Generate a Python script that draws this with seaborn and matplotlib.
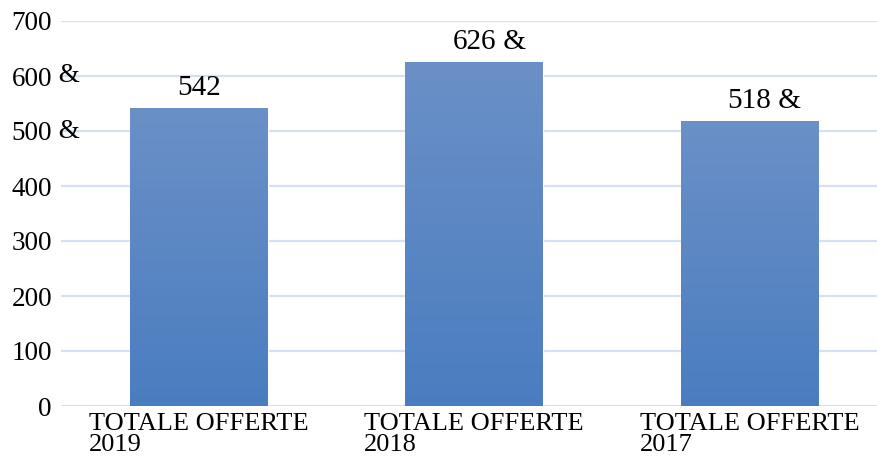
import numpy as np
import pandas as pd
import matplotlib
matplotlib.use("Agg")
import matplotlib.pyplot as plt
import seaborn as sns

# Data
categories = ["TOTALE OFFERTE\n2019", "TOTALE OFFERTE\n2018", "TOTALE OFFERTE\n2017"]
values = [542, 626, 518]
value_suffix = ["", " &", " &"]
ytick_values = [0, 100, 200, 300, 400, 500, 600, 700]
ytick_suffix = ["", "", "", "", "", " &", " &", ""]

df = pd.DataFrame({"categoria": categories, "offerte": values})

sns.set_style("white")
plt.rcParams["font.family"] = ["Liberation Serif", "DejaVu Serif"]
plt.rcParams["text.color"] = "black"
plt.rcParams["xtick.color"] = "black"
plt.rcParams["ytick.color"] = "black"

fig = plt.figure(figsize=(8.77, 4.62), dpi=100)
ax = fig.add_axes([61 / 877, 56 / 462, 826 / 877, 385 / 462])

sns.barplot(data=df, x="categoria", y="offerte", color="#5a85c2",
            width=0.5, saturation=1, ax=ax, zorder=2)

# vertical gradient on each bar (lighter on top)
grad = np.linspace(0, 1, 256).reshape(-1, 1)
cmap = matplotlib.colors.LinearSegmentedColormap.from_list("g", ["#4a7dc0", "#6b90c7"])
for p in ax.patches:
    x0, y0 = p.get_x(), p.get_y()
    w, h = p.get_width(), p.get_height()
    im = ax.imshow(grad, cmap=cmap, aspect="auto", origin="lower",
                   extent=[x0, x0 + w, y0, y0 + h], zorder=3)
    im.set_clip_path(p)

ax.set_xlim(-0.5, 2.5)
ax.set_ylim(0, 700)
ax.set_yticks(ytick_values)
ax.set_yticklabels([str(v) for v in ytick_values])
ax.yaxis.grid(True, color="#d5e1f3", linewidth=1.6, zorder=0)
ax.set_axisbelow(True)
for s in ax.spines.values():
    s.set_visible(False)
ax.set_xlabel("")
ax.set_ylabel("")
ax.tick_params(axis="y", length=0, pad=6.5, labelsize=19.5)
ax.tick_params(axis="x", length=0, pad=5, labelsize=19)
for lab in ax.get_xticklabels():
    lab.set_multialignment("left")
    lab.set_linespacing(0.95)

# " &" suffixes hanging after some y tick labels
for v, suf in zip(ytick_values, ytick_suffix):
    if suf:
        ax.annotate(suf, xy=(0, v), xycoords=("axes fraction", "data"),
                    xytext=(-6.5, 0), textcoords="offset points", ha="left",
                    va="center", fontsize=19.5, zorder=1)

# value labels: number centred on bar, suffix after it
for i, (v, suf) in enumerate(zip(values, value_suffix)):
    t = ax.annotate(str(v), xy=(i, v), xytext=(0, 5), textcoords="offset points",
                    ha="center", va="bottom", fontsize=21, zorder=4)
    if suf:
        ax.annotate(suf, xy=(1, 0), xycoords=t, ha="left", va="bottom",
                    fontsize=21, zorder=4)

fig.savefig("out.png", dpi=100)
